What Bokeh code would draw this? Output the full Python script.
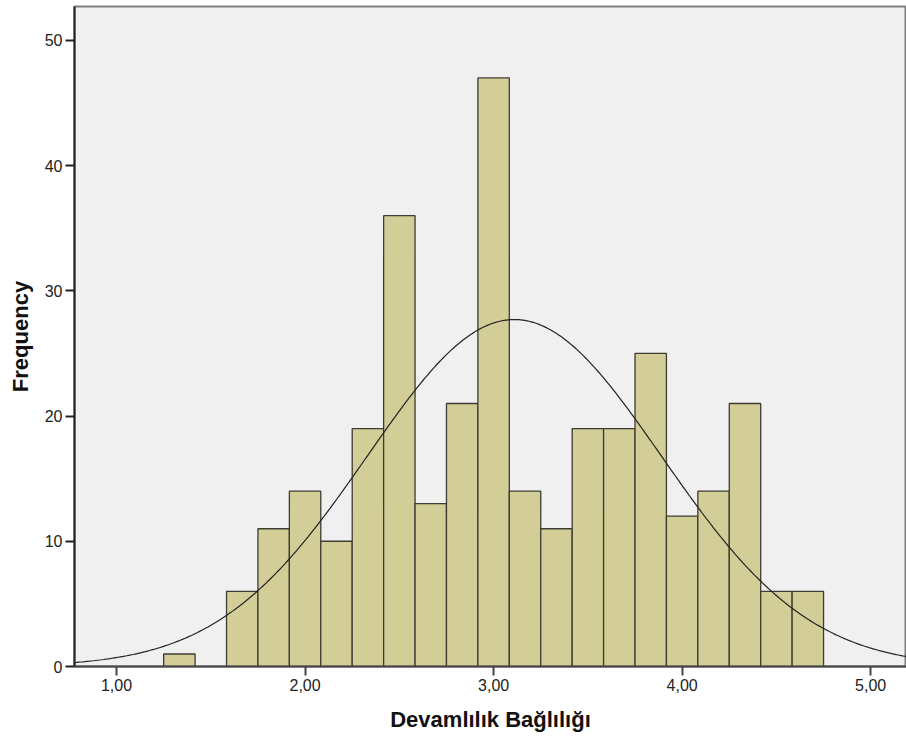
import numpy as np
from bokeh.plotting import figure
from bokeh.models import Range1d, FixedTicker, ColumnDataSource
from bokeh.embed import file_html
from bokeh.resources import INLINE

# Data
bin_start = 1.25
bin_width = 1.0 / 6.0
counts = [1, 0, 6, 11, 14, 10, 19, 36, 13, 21, 47, 14, 11, 19, 19, 25, 12, 14, 21, 6, 6]
x_ticks = [1, 2, 3, 4, 5]
x_tick_labels = ["1,00", "2,00", "3,00", "4,00", "5,00"]
y_ticks = [0, 10, 20, 30, 40, 50]
curve_mean = 3.11
curve_sd = 0.78
n_total = sum(counts)

lefts = [bin_start + i * bin_width for i in range(len(counts))]
rights = [l + bin_width for l in lefts]
src = ColumnDataSource(dict(
    left=[l for l, c in zip(lefts, counts) if c > 0],
    right=[r for r, c in zip(rights, counts) if c > 0],
    top=[c for c in counts if c > 0],
))

x_lo, x_hi = 0.777, 5.19
p = figure(width=906, height=740, output_backend="svg", toolbar_location=None,
           x_range=Range1d(x_lo, x_hi), y_range=Range1d(0, 52.7),
           min_border_left=74, min_border_right=0, min_border_top=6, min_border_bottom=74)

p.border_fill_color = "white"
p.outline_line_color = "#7f7f7f"
p.outline_line_width = 2
p.background_fill_color = "#f0f0f0"
p.grid.visible = False

p.quad(left="left", right="right", bottom=0, top="top", source=src,
       fill_color="#d3ce97", line_color="#3c3c32", line_width=1.3)

xs = np.linspace(x_lo, x_hi, 400)
ys = n_total * bin_width / (curve_sd * np.sqrt(2 * np.pi)) * np.exp(-0.5 * ((xs - curve_mean) / curve_sd) ** 2)
p.line(xs, ys, line_color="#222222", line_width=1.2)

for ax in (p.xaxis[0], p.yaxis[0]):
    ax.major_label_text_font = "Liberation Sans"
    ax.major_label_text_font_size = "16px"
    ax.major_label_text_color = "#222222"
    ax.axis_label_text_font = "Liberation Sans"
    ax.axis_label_text_font_size = "22px"
    ax.axis_label_text_font_style = "bold"
    ax.axis_label_text_color = "#111111"
    ax.minor_tick_line_color = None
    ax.major_tick_in = 0
    ax.major_tick_out = 9
    ax.major_tick_line_width = 2
    ax.axis_line_width = 2

p.xaxis.ticker = FixedTicker(ticks=x_ticks)
p.xaxis.major_label_overrides = {t: l for t, l in zip(x_ticks, x_tick_labels)}
p.xaxis.axis_label = "Devamlılık Bağlılığı"
p.xaxis.axis_line_color = "#444444"
p.xaxis.major_tick_line_color = "#444444"
p.xaxis.major_label_standoff = 3
p.xaxis.axis_label_standoff = 13

p.yaxis.ticker = FixedTicker(ticks=y_ticks)
p.yaxis.axis_label = "Frequency"
p.yaxis.axis_line_color = "#222222"
p.yaxis.major_tick_line_color = "#222222"
p.yaxis.major_label_standoff = 3
p.yaxis.axis_label_standoff = 9

open("out.html", "w").write(file_html(p, INLINE))
